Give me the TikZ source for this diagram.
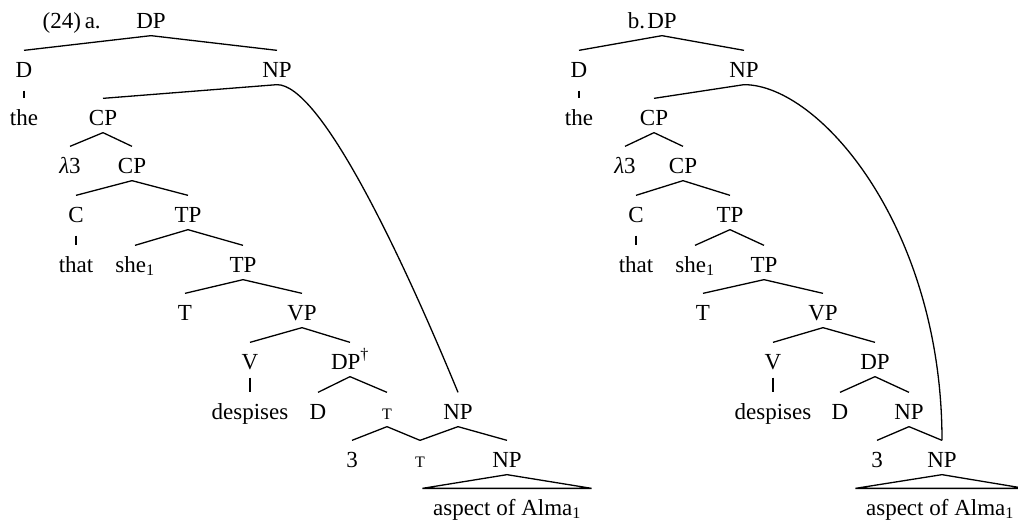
\documentclass[tikz,border=0pt]{standalone}
\usepackage{fontspec}
\setmainfont{Liberation Serif}
\usepackage{tikz}

\begin{document}
\begin{tikzpicture}[x=1pt, y=-1pt, line width=1.3pt,
    every node/.style={anchor=base, inner xsep=1pt, inner ysep=4pt,
      text height=22pt, text depth=3pt, font=\fontsize{23}{26}\selectfont},
    unary/.style={shorten <=6pt},
    tri/.style={inner xsep=10pt},
    smt/.style={font=\fontsize{16}{18}\selectfont}]
   \useasboundingbox (0,0) rectangle (1018,522);

   % (24a)
   \node[anchor=base west, inner xsep=0pt] (exa) at (42,28) {(24)\,a.};
   \node (lDP) at (151,28) {DP};
   \node (lD) at (24,77) {D};
   \node (lNP) at (277,77) {NP};
   \node (lthe) at (24,125) {the};
   \node (lCP) at (103,125) {CP};
   \node (llam) at (70,173) {\textit{λ}3};
   \node (lCPb) at (132,173) {CP};
   \node (lC) at (76,222) {C};
   \node (lTP) at (188,222) {TP};
   \node (lthat) at (76,272) {that};
   \node (lshe) at (135,272) {she\textsubscript{1}};
   \node (lTPb) at (243,272) {TP};
   \node (lT) at (185,320) {T};
   \node (lVP) at (302,320) {VP};
   \node (lV) at (250,369) {V};
   \node (lDPd) at (350,369) {DP\textsuperscript{†}};
   \node (ldes) at (250,419) {despises};
   \node (lDd) at (318,419) {D};
   \node[smt] (ltau) at (387,419) {T};
   \node (lNPc) at (458,419) {NP};
   \node (lthree) at (352,467) {3};
   \node[smt] (ltaub) at (420,467) {T};
   \node (lNPd) at (507,467) {NP};
   \node[tri] (lasp) at (507,515) {aspect of Alma\textsubscript{1}};

   % (24b)
   \node (rDP) at (662,28) {DP};
   \node[anchor=base east, inner xsep=0pt] (exb) at (rDP.base west) {b.};
   \node (rD) at (579,77) {D};
   \node (rNP) at (744,77) {NP};
   \node (rthe) at (579,125) {the};
   \node (rCP) at (654,125) {CP};
   \node (rlam) at (625,173) {\textit{λ}3};
   \node (rCPb) at (683,173) {CP};
   \node (rC) at (636,222) {C};
   \node (rTP) at (730,222) {TP};
   \node (rthat) at (636,272) {that};
   \node (rshe) at (695,272) {she\textsubscript{1}};
   \node (rTPb) at (764,272) {TP};
   \node (rT) at (703,320) {T};
   \node (rVP) at (823,320) {VP};
   \node (rV) at (773,369) {V};
   \node (rDPd) at (875,369) {DP};
   \node (rdes) at (773,419) {despises};
   \node (rDd) at (840,419) {D};
   \node (rNPc) at (909,419) {NP};
   \node (rthree) at (877,467) {3};
   \node (rNPd) at (942,467) {NP};
   \node[tri] (rasp) at (940,515) {aspect of Alma\textsubscript{1}};

   \path
    % left tree branches
    (lDP.south) edge (lD.north)
    (lDP.south) edge (lNP.north)
    (lD.south) edge[unary] (lthe.north)
    (lNP.south) edge (lCP.north)
    (lCP.south) edge (llam.north)
    (lCP.south) edge (lCPb.north)
    (lCPb.south) edge (lC.north)
    (lCPb.south) edge (lTP.north)
    (lC.south) edge[unary] (lthat.north)
    (lTP.south) edge (lshe.north)
    (lTP.south) edge (lTPb.north)
    (lTPb.south) edge (lT.north)
    (lTPb.south) edge (lVP.north)
    (lVP.south) edge (lV.north)
    (lVP.south) edge (lDPd.north)
    (lV.south) edge[shorten <=1pt] (ldes.north)
    (lDPd.south) edge (lDd.north)
    (lDPd.south) edge (ltau.north)
    (ltau.south) edge (lthree.north)
    (ltau.south) edge (ltaub.north)
    (lNPc.south) edge (ltaub.north)
    (lNPc.south) edge (lNPd.north)

    % right tree branches
    (rDP.south) edge (rD.north)
    (rDP.south) edge (rNP.north)
    (rD.south) edge[unary] (rthe.north)
    (rNP.south) edge (rCP.north)
    (rCP.south) edge (rlam.north)
    (rCP.south) edge (rCPb.north)
    (rCPb.south) edge (rC.north)
    (rCPb.south) edge (rTP.north)
    (rC.south) edge[unary] (rthat.north)
    (rTP.south) edge (rshe.north)
    (rTP.south) edge (rTPb.north)
    (rTPb.south) edge (rT.north)
    (rTPb.south) edge (rVP.north)
    (rVP.south) edge (rV.north)
    (rVP.south) edge (rDPd.north)
    (rV.south) edge[shorten <=1pt] (rdes.north)
    (rDPd.south) edge (rDd.north)
    (rDPd.south) edge (rNPc.north)
    (rNPc.south) edge (rthree.north)
    (rNPc.south) edge (rNPd.north)
    ;

   % shared NP, drawn as a long curved branch
   \draw (lNP.south) .. controls +(43,0) and +(-59,-143) .. (lNPc.north);
   \draw (rNP.south) .. controls +(76,0) and +(0,-212) .. (rNPd.north);

   % triangles
   \draw (lNPd.south) -- (lasp.north west) -- (lasp.north east) -- cycle;
   \draw (rNPd.south) -- (rasp.north west) -- (rasp.north east) -- cycle;
\end{tikzpicture}
\end{document}
